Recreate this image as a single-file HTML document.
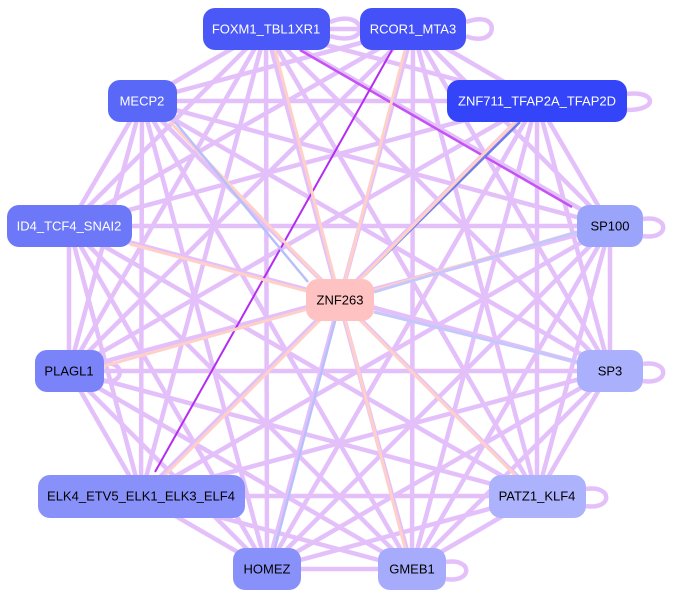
<!DOCTYPE html>
<html><head><meta charset="utf-8"><style>
html,body{margin:0;padding:0;background:#fff;width:676px;height:599px;overflow:hidden}
svg{display:block}
text{font-family:"Liberation Sans",sans-serif;font-size:13px;text-anchor:middle;dominant-baseline:central}
</style></head><body>
<svg width="676" height="599" viewBox="0 0 676 599">
<g stroke="#e4c0fb" stroke-width="4.5" fill="none">
<line x1="266" y1="29" x2="413" y2="29"/><line x1="266" y1="29" x2="142" y2="101"/><line x1="266" y1="29" x2="537" y2="101"/><line x1="266" y1="29" x2="69" y2="226"/><line x1="266" y1="29" x2="610" y2="226"/><line x1="266" y1="29" x2="69" y2="371"/><line x1="266" y1="29" x2="610" y2="371"/><line x1="266" y1="29" x2="141" y2="496"/><line x1="266" y1="29" x2="537" y2="496"/><line x1="266" y1="29" x2="267" y2="569"/><line x1="266" y1="29" x2="412" y2="569"/>
<line x1="413" y1="29" x2="142" y2="101"/><line x1="413" y1="29" x2="537" y2="101"/><line x1="413" y1="29" x2="69" y2="226"/><line x1="413" y1="29" x2="610" y2="226"/><line x1="413" y1="29" x2="69" y2="371"/><line x1="413" y1="29" x2="610" y2="371"/><line x1="413" y1="29" x2="537" y2="496"/><line x1="413" y1="29" x2="267" y2="569"/><line x1="413" y1="29" x2="412" y2="569"/>
<line x1="142" y1="101" x2="537" y2="101"/><line x1="142" y1="101" x2="69" y2="226"/><line x1="142" y1="101" x2="610" y2="226"/><line x1="142" y1="101" x2="69" y2="371"/><line x1="142" y1="101" x2="610" y2="371"/><line x1="142" y1="101" x2="141" y2="496"/><line x1="142" y1="101" x2="537" y2="496"/><line x1="142" y1="101" x2="267" y2="569"/><line x1="142" y1="101" x2="412" y2="569"/>
<line x1="537" y1="101" x2="69" y2="226"/><line x1="537" y1="101" x2="610" y2="226"/><line x1="537" y1="101" x2="69" y2="371"/><line x1="537" y1="101" x2="610" y2="371"/><line x1="537" y1="101" x2="141" y2="496"/><line x1="537" y1="101" x2="537" y2="496"/><line x1="537" y1="101" x2="267" y2="569"/><line x1="537" y1="101" x2="412" y2="569"/>
<line x1="69" y1="226" x2="610" y2="226"/><line x1="69" y1="226" x2="69" y2="371"/><line x1="69" y1="226" x2="610" y2="371"/><line x1="69" y1="226" x2="141" y2="496"/><line x1="69" y1="226" x2="537" y2="496"/><line x1="69" y1="226" x2="267" y2="569"/><line x1="69" y1="226" x2="412" y2="569"/>
<line x1="610" y1="226" x2="69" y2="371"/><line x1="610" y1="226" x2="610" y2="371"/><line x1="610" y1="226" x2="141" y2="496"/><line x1="610" y1="226" x2="537" y2="496"/><line x1="610" y1="226" x2="267" y2="569"/><line x1="610" y1="226" x2="412" y2="569"/>
<line x1="69" y1="371" x2="610" y2="371"/><line x1="69" y1="371" x2="141" y2="496"/><line x1="69" y1="371" x2="537" y2="496"/><line x1="69" y1="371" x2="267" y2="569"/><line x1="69" y1="371" x2="412" y2="569"/>
<line x1="610" y1="371" x2="141" y2="496"/><line x1="610" y1="371" x2="537" y2="496"/><line x1="610" y1="371" x2="267" y2="569"/><line x1="610" y1="371" x2="412" y2="569"/>
<line x1="141" y1="496" x2="537" y2="496"/><line x1="141" y1="496" x2="267" y2="569"/><line x1="141" y1="496" x2="412" y2="569"/>
<line x1="537" y1="496" x2="267" y2="569"/><line x1="537" y1="496" x2="412" y2="569"/>
<line x1="267" y1="569" x2="412" y2="569"/>
<path d="M330,22 C350,14 360,22 360,29 C360,36 350,42 330,36"/>
<path d="M466,22 C490,14 495,26 490,34 C485,40 475,40 466,36"/>
<path d="M627,94 C655,90 660,110 627,110"/>
<path d="M643,219 C670,215 670,240 643,236"/>
<path d="M643,364 C670,360 670,385 643,381"/>
<path d="M586,489 C613,485 613,510 586,506"/>
<path d="M446,562 C473,558 473,583 446,579"/>
<path d="M104,364 C125,360 125,385 104,381"/>
</g>
<g stroke-width="2.5" fill="none">
<line x1="300" y1="50" x2="572" y2="207" stroke="#c452f4"/>
<line x1="392" y1="50" x2="155" y2="472" stroke="#b42cf2" stroke-width="2"/>
<line x1="520" y1="122" x2="364" y2="276" stroke="#6c7ce8"/>
<line x1="340" y1="300" x2="170" y2="122" stroke="#ffd0c8" stroke-width="3"/>
<line x1="340" y1="300" x2="130" y2="244" stroke="#ffd0c8" stroke-width="3"/>
<line x1="340" y1="300" x2="104" y2="366" stroke="#ffd0c8" stroke-width="3"/>
<line x1="340" y1="300" x2="515" y2="122" stroke="#ffd0c8" stroke-width="3"/>
<line x1="340" y1="300" x2="577" y2="232" stroke="#ffd0c8" stroke-width="3"/>
<line x1="340" y1="300" x2="515" y2="475" stroke="#ffd0c8" stroke-width="3"/>
<line x1="340" y1="300" x2="405" y2="548" stroke="#ffd0c8" stroke-width="3"/>
<line x1="340" y1="300" x2="165" y2="475" stroke="#ffd0c8" stroke-width="3"/>
<line x1="340" y1="300" x2="275" y2="50" stroke="#ffd0c8" stroke-width="3"/>
<line x1="340" y1="300" x2="405" y2="50" stroke="#ffd0c8" stroke-width="3"/>
<line x1="577" y1="362" x2="374" y2="312" stroke="#c4c8fb" stroke-width="3"/>
<line x1="275" y1="548" x2="335" y2="321" stroke="#b8c0fb"/>
<line x1="577" y1="232" x2="374" y2="292" stroke="#c4c8fb" stroke-width="3"/>
<line x1="175" y1="122" x2="308" y2="282" stroke="#b8c0fb"/>
</g>
<g>
<rect x="203" y="8" width="127" height="42" rx="12" fill="#4a58f8"/>
<rect x="360" y="8" width="106" height="42" rx="12" fill="#4450f8"/>
<rect x="108" y="80" width="69" height="42" rx="12" fill="#5a68f8"/>
<rect x="447" y="80" width="180" height="42" rx="12" fill="#3444f8"/>
<rect x="7" y="205" width="125" height="42" rx="12" fill="#6c78f8"/>
<rect x="577" y="205" width="66" height="42" rx="12" fill="#9aa4fa"/>
<rect x="306" y="279" width="68" height="42" rx="12" fill="#ffc2c2"/>
<rect x="35" y="350" width="69" height="42" rx="12" fill="#7a84f8"/>
<rect x="577" y="350" width="66" height="42" rx="12" fill="#aab0fb"/>
<rect x="38" y="475" width="207" height="43" rx="12" fill="#8890f9"/>
<rect x="489" y="475" width="97" height="43" rx="12" fill="#acb2fb"/>
<rect x="233" y="548" width="68" height="42" rx="12" fill="#8890f9"/>
<rect x="378" y="548" width="68" height="42" rx="12" fill="#a6acfb"/>
</g>
<g>
<text x="266" y="29" fill="#fff">FOXM1_TBL1XR1</text>
<text x="413" y="29" fill="#fff">RCOR1_MTA3</text>
<text x="142" y="101" fill="#fff">MECP2</text>
<text x="537" y="101" fill="#fff">ZNF711_TFAP2A_TFAP2D</text>
<text x="69" y="226" fill="#fff">ID4_TCF4_SNAI2</text>
<text x="610" y="226" fill="#000">SP100</text>
<text x="340" y="300" fill="#000">ZNF263</text>
<text x="69" y="371" fill="#000">PLAGL1</text>
<text x="610" y="371" fill="#000">SP3</text>
<text x="141" y="496" fill="#000">ELK4_ETV5_ELK1_ELK3_ELF4</text>
<text x="537" y="496" fill="#000">PATZ1_KLF4</text>
<text x="267" y="569" fill="#000">HOMEZ</text>
<text x="412" y="569" fill="#000">GMEB1</text>
</g>
</svg>
</body></html>
